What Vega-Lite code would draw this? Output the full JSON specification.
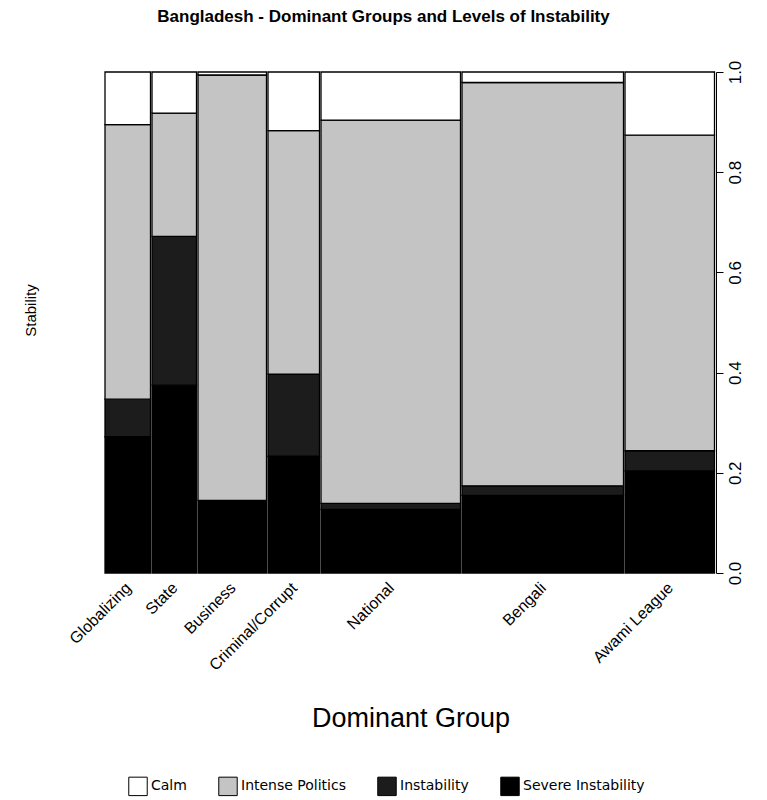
{
  "$schema": "https://vega.github.io/schema/vega-lite/v6.json",
  "autosize": "none",
  "width": 611,
  "height": 501,
  "padding": {"top": 72, "left": 105, "right": 51, "bottom": 227},
  "background": "white",
  "title": {
    "text": "Bangladesh - Dominant Groups and Levels of Instability",
    "font": "Liberation Sans",
    "fontSize": 17,
    "fontWeight": "bold",
    "color": "black",
    "anchor": "middle",
    "dx": -27,
    "offset": 34
  },
  "config": {"view": {"stroke": null}},
  "datasets": {
    "groups": [
      {"group": "Globalizing", "order": 1, "size": 47, "level": ["Severe Instability", "Instability", "Intense Politics", "Calm"], "rank": [1, 2, 3, 4], "share": [0.272, 0.075, 0.548, 0.105]},
      {"group": "State", "order": 2, "size": 46, "level": ["Severe Instability", "Instability", "Intense Politics", "Calm"], "rank": [1, 2, 3, 4], "share": [0.375, 0.297, 0.246, 0.082]},
      {"group": "Business", "order": 3, "size": 70, "level": ["Severe Instability", "Instability", "Intense Politics", "Calm"], "rank": [1, 2, 3, 4], "share": [0.145, 0.0, 0.849, 0.006]},
      {"group": "Criminal/Corrupt", "order": 4, "size": 53, "level": ["Severe Instability", "Instability", "Intense Politics", "Calm"], "rank": [1, 2, 3, 4], "share": [0.233, 0.164, 0.486, 0.117]},
      {"group": "National", "order": 5, "size": 141, "level": ["Severe Instability", "Instability", "Intense Politics", "Calm"], "rank": [1, 2, 3, 4], "share": [0.127, 0.012, 0.765, 0.096]},
      {"group": "Bengali", "order": 6, "size": 163, "level": ["Severe Instability", "Instability", "Intense Politics", "Calm"], "rank": [1, 2, 3, 4], "share": [0.155, 0.019, 0.805, 0.021]},
      {"group": "Awami League", "order": 7, "size": 91, "level": ["Severe Instability", "Instability", "Intense Politics", "Calm"], "rank": [1, 2, 3, 4], "share": [0.204, 0.04, 0.63, 0.126]}
    ]
  },
  "resolve": {"axis": {"x": "independent", "y": "independent"}},
  "layer": [
    {
      "data": {"name": "groups"},
      "transform": [
        {"stack": "size", "groupby": [], "sort": [{"field": "order", "order": "ascending"}], "as": ["x0", "x1"]},
        {"flatten": ["level", "rank", "share"]},
        {"stack": "share", "groupby": ["group"], "sort": [{"field": "rank", "order": "ascending"}], "as": ["y0", "y1"]}
      ],
      "mark": {"type": "rect", "stroke": "black", "strokeWidth": 1.3, "x2Offset": -1.5},
      "encoding": {
        "x": {
          "field": "x0", "type": "quantitative",
          "scale": {"domain": [0, 611], "nice": false, "zero": false},
          "axis": {"labels": false, "ticks": false, "domain": false, "grid": false, "title": "Dominant Group",
                   "titleFont": "Liberation Sans", "titleFontSize": 27, "titleFontWeight": "normal", "titleColor": "black", "titlePadding": 132}
        },
        "x2": {"field": "x1"},
        "y": {
          "field": "y0", "type": "quantitative",
          "scale": {"domain": [0, 1], "nice": false},
          "axis": {"orient": "right", "title": null, "values": [0, 0.2, 0.4, 0.6, 0.8, 1.0], "format": ".1f",
                   "grid": false, "domain": true, "domainColor": "black", "tickColor": "black", "tickSize": 7,
                   "labelAngle": -90, "labelAlign": "center", "labelBaseline": "top", "labelPadding": 4,
                   "labelFont": "Liberation Sans", "labelFontSize": 17, "labelColor": "black"}
        },
        "y2": {"field": "y1"},
        "fill": {
          "field": "level", "type": "nominal",
          "scale": {"domain": ["Calm", "Intense Politics", "Instability", "Severe Instability"],
                    "range": ["#ffffff", "#c4c4c4", "#1c1c1c", "#000000"]},
          "legend": {"orient": "none", "legendX": 23, "legendY": 704, "direction": "horizontal", "title": null,
                     "symbolType": "square", "symbolSize": 340, "symbolStrokeColor": "black", "symbolStrokeWidth": 1,
                     "labelFont": "DejaVu Sans", "labelFontSize": 14, "labelColor": "black", "labelOffset": 3,
                     "columnPadding": 29}
        }
      }
    },
    {
      "data": {"name": "groups"},
      "transform": [
        {"stack": "size", "groupby": [], "sort": [{"field": "order", "order": "ascending"}], "as": ["x0", "x1"]},
        {"fold": ["x0", "x1"], "as": ["k", "v"]},
        {"aggregate": [{"op": "mean", "field": "v", "as": "xmid"}], "groupby": ["group"]}
      ],
      "mark": {"type": "text", "angle": 315, "align": "right", "baseline": "middle", "font": "Liberation Sans", "fontSize": 16, "color": "black"},
      "encoding": {
        "x": {"field": "xmid", "type": "quantitative", "scale": {"domain": [0, 611], "nice": false, "zero": false}, "axis": null},
        "y": {"datum": -0.025, "type": "quantitative", "scale": {"domain": [0, 1], "nice": false},
              "axis": {"orient": "left", "title": "Stability", "labels": false, "ticks": false, "domain": false, "grid": false,
                       "titleFont": "Liberation Sans", "titleFontSize": 15, "titleFontWeight": "normal", "titleColor": "black", "titlePadding": 67, "titleY": 238}},
        "text": {"field": "group", "type": "nominal"}
      }
    }
  ]
}
